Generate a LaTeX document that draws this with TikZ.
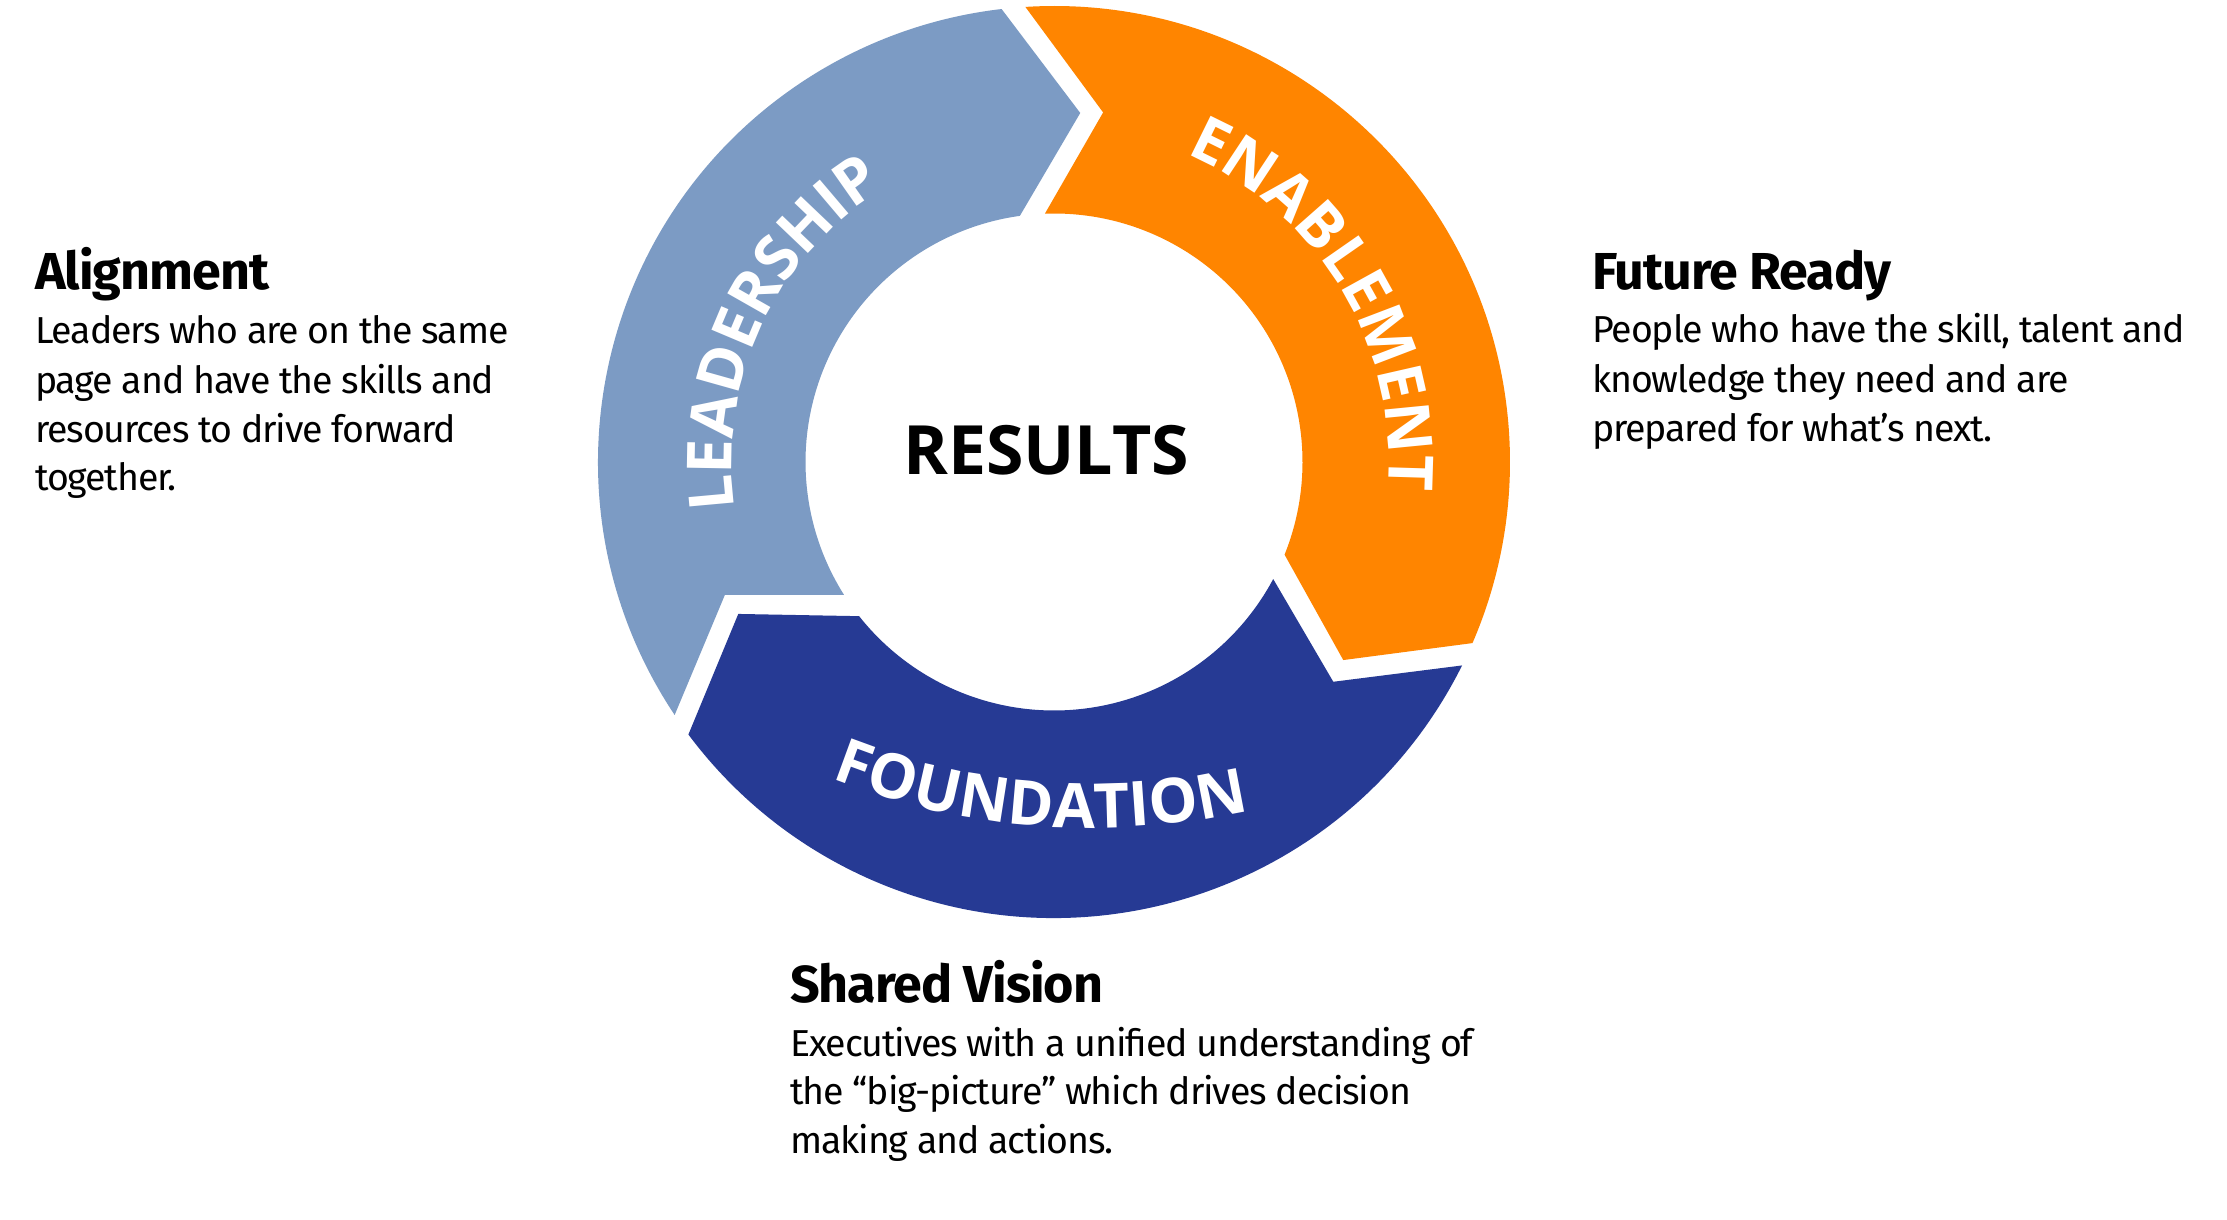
\documentclass[tikz,border=0pt]{standalone}
\usepackage{fontspec}
\setmainfont{Fira Sans}
\newfontfamily\bodyfont[LetterSpace=-3]{Fira Sans}
\newfontfamily\headfont[LetterSpace=-2]{Fira Sans}
\newfontfamily\opensans{Open Sans}
\newfontfamily\opensanswide[LetterSpace=8]{Open Sans}
\usetikzlibrary{decorations.text}
\definecolor{lblue}{HTML}{7C9BC4}
\definecolor{orng}{HTML}{FF8500}
\definecolor{dblue}{HTML}{263A94}
\begin{document}
\begin{tikzpicture}[x=1pt,y=1pt,
  headtxt/.style={anchor=base west, inner sep=0pt, font=\headfont\fontsize{52}{52}\selectfont\bfseries},
  bodytxt/.style={anchor=base west, inner sep=0pt, font=\bodyfont\fontsize{37.5}{45}\selectfont},
  ringlabel/.style={decorate, decoration={text along path, text color=white, text align=center,
     text={|\opensans\bfseries\fontsize{62}{62}\selectfont|#1}}},
  ringlabelwide/.style={decorate, decoration={text along path, text color=white, text align=center,
     text={|\opensanswide\bfseries\fontsize{62}{62}\selectfont|#1}}}]
\useasboundingbox (0,0) rectangle (2227,1219);
\fill[white] (0,0) rectangle (2227,1219);
\begin{scope}[shift={(1054,757)}]
  % Leadership
  \fill[lblue] (213.7:456) arc[start angle=213.7, end angle=96.6, radius=456]
     -- (85.7:350) -- (97.9:248.5) arc[start angle=97.9, end angle=212.3, radius=248.5]
     -- (202.0:355) -- cycle;
  % Enablement
  \fill[orng] (93.6:456) arc[start angle=93.6, end angle=-23.4, radius=456]
     -- (-34.4:350.6) -- (-21.9:248.5) arc[start angle=-21.9, end angle=92.1, radius=248.5]
     -- (82.0:353) -- cycle;
  % Foundation
  \fill[dblue] (-26.5:456) arc[start angle=-26.5, end angle=-143.3, radius=456]
     -- (-154.3:350.4) -- (-141.65:248.5) arc[start angle=-141.65, end angle=-28.1, radius=248.5]
     -- (-38.2:355.4) -- cycle;
  % ring labels
  \path[ringlabel=LEADERSHIP] (215:322) arc[start angle=215, end angle=95, radius=322];
  \path[ringlabel=ENABLEMENT] (91:335) arc[start angle=91, end angle=-29, radius=335];
  \node[anchor=base, inner sep=0pt, font=\opensans\bfseries\fontsize{68}{68}\selectfont] (results) at (-8,-13) {RESULTS};
\end{scope}
\begin{scope}[shift={(1091.6,1102)}]
  \path[ringlabelwide=FOUNDATION] (225.7:711) arc[start angle=225.7, end angle=305.7, radius=711];
\end{scope}
% Alignment block
\node[headtxt] (alh) at (35,929) {Alignment};
\node[bodytxt] (al1) at (35,875) {Leaders who are on the same};
\node[bodytxt] (al2) at (35,825) {page and have the skills and};
\node[bodytxt] (al3) at (35,776) {resources to drive forward};
\node[bodytxt] (al4) at (35,728) {together.};
% Future Ready block
\node[headtxt] (frh) at (1592,929) {Future Ready};
\node[bodytxt] (fr1) at (1592,876) {People who have the skill, talent and};
\node[bodytxt] (fr2) at (1592,826) {knowledge they need and are};
\node[bodytxt] (fr3) at (1592,777) {prepared for what’s next.};
% Shared Vision block
\node[headtxt] (svh) at (790,217) {Shared Vision};
\node[bodytxt] (sv1) at (790,163) {Executives with a unified understanding of};
\node[bodytxt] (sv2) at (790,115) {the “big-picture” which drives decision};
\node[bodytxt] (sv3) at (790,66) {making and actions.};
\end{tikzpicture}
\end{document}
